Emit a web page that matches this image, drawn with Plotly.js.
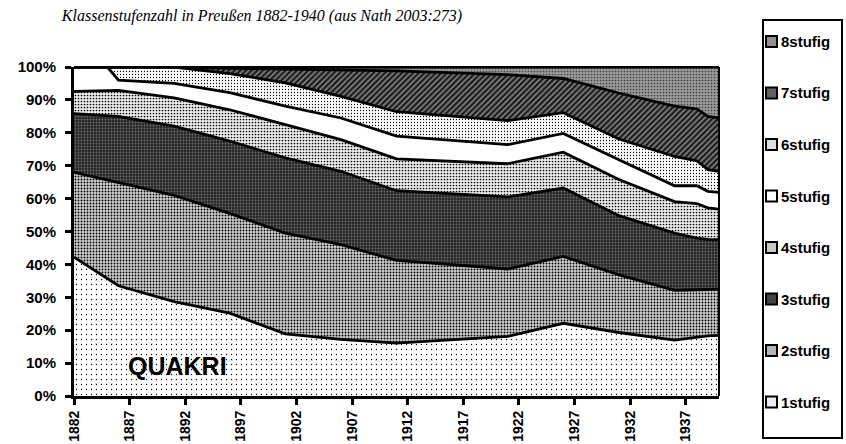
<!DOCTYPE html>
<html><head><meta charset="utf-8">
<script src="https://cdn.plot.ly/plotly-3.0.1.min.js"></script>
<style>body{margin:0;background:#fff}#c{width:846px;height:444px}</style>
</head><body><div id="c"></div>
<script>
var years = [1882,1885,1886,1891,1896,1901,1906,1911,1921,1926,1931,1936,1938,1939,1940];
var s1 = [42.2,35.7,33.5,28.7,25.2,18.9,17.2,16.1,18.1,22.1,19.3,17.0,17.8,18.3,18.4];
var s2 = [25.8,30.0,31.4,32.3,30.3,30.6,28.8,25.1,20.5,20.3,17.5,15.1,14.5,14.2,14.1];
var s3 = [17.8,19.5,20.1,21.0,22.0,22.9,22.3,21.2,21.9,20.8,18.0,17.4,15.7,15.1,15.0];
var s4 = [6.8,7.6,7.9,8.6,9.5,10.1,9.6,9.7,10.1,10.9,11.0,9.6,10.5,9.6,9.3];
var s5 = [7.4,7.2,3.1,4.4,5.2,5.6,6.6,6.9,5.8,5.7,6.0,4.8,5.4,5.0,5.1];
var s6 = [0,0,4.0,5.0,5.8,7.1,6.6,7.4,7.3,6.3,6.3,8.9,7.6,6.6,6.4];
var s7 = [0,0,0,0,1.6,4.1,7.9,12.4,14.0,10.4,14.0,15.3,15.8,16.2,16.2];
var s8 = [0,0,0,0,0.4,0.7,1.0,1.2,2.3,3.5,7.9,11.9,12.7,15.0,15.5];
var names = ['1stufig','2stufig','3stufig','4stufig','5stufig','6stufig','7stufig','8stufig'];
var series = [s1,s2,s3,s4,s5,s6,s7,s8];
var patterns = [
  {shape:'.', bgcolor:'#ffffff', fgcolor:'#000000', size:5, solidity:0.05},
  {shape:'.', bgcolor:'#d0d0d0', fgcolor:'#000000', size:3, solidity:0.3},
  {shape:'.', bgcolor:'#262626', fgcolor:'#6e6e6e', size:3, solidity:0.3},
  {shape:'.', bgcolor:'#ececec', fgcolor:'#000000', size:3, solidity:0.25},
  null,
  {shape:'.', bgcolor:'#ffffff', fgcolor:'#000000', size:3, solidity:0.14},
  {shape:'/', bgcolor:'#7a7a7a', fgcolor:'#141414', size:4, solidity:0.5},
  {shape:'.', bgcolor:'#9a9a9a', fgcolor:'#404040', size:3, solidity:0.25}
];
var legendFill = ['#ececec','#b4b4b4','#444444','#c8c8c8','#ffffff','#dedede','#626262','#909090'];
var traces = series.map(function(v,i){
  var t = {x:years, y:v, name:names[i], type:'scatter', mode:'lines', stackgroup:'a',
    line:{color:'#000', width:2.8, shape:'linear'}, fillcolor: legendFill[i], hoverinfo:'skip'};
  if (patterns[i]) t.fillpattern = patterns[i]; else t.fillcolor = '#ffffff';
  return t;
});
var F = 'Liberation Sans, Arial, sans-serif';
var shapes = [
  {type:'line', xref:'paper', yref:'paper', x0:0, x1:1, y0:1, y1:1, line:{color:'#000', width:2}},
  {type:'line', xref:'paper', yref:'paper', x0:1, x1:1, y0:0, y1:1, line:{color:'#000', width:2}},
  {type:'rect', xref:'paper', yref:'paper', x0:(763-74)/645, x1:(842-74)/645, y0:(396-438)/329, y1:(396-20)/329, line:{color:'#000', width:2}, fillcolor:'rgba(0,0,0,0)'}
];
var annotations = [
  {x:1891.3, y:9, xref:'x', yref:'y', text:'<b>QUAKRI</b>', showarrow:false, font:{family:F, size:25, color:'#000'}}
];
for (var k=0;k<8;k++){
  var idx = 7-k;
  var cy = 41.5 + k*51.5;
  shapes.push({type:'rect', xref:'paper', yref:'paper', x0:(766-74)/645, x1:(777-74)/645, y0:(396-cy-5.5)/329, y1:(396-cy+5.5)/329, line:{color:'#000', width:2}, fillcolor:legendFill[idx]});
  annotations.push({x:(779-74)/645, y:(396-cy)/329, xref:'paper', yref:'paper', xanchor:'left', yanchor:'middle', text:'<b>'+names[idx]+'</b>', showarrow:false, font:{family:F, size:15, color:'#000'}});
}
var layout = {
  width:846, height:444,
  margin:{l:74, r:127, t:67, b:48, pad:0},
  paper_bgcolor:'#fff', plot_bgcolor:'#fff',
  showlegend:false,
  title:{text:'<i>Klassenstufenzahl in Preußen 1882-1940 (aus Nath 2003:273)</i>', x:262/846, xanchor:'center', xref:'container', y:1-15/444, yanchor:'middle', yref:'container', font:{family:'Liberation Serif, Times New Roman, serif', size:16, color:'#000'}},
  xaxis:{range:[1882,1940], tick0:1882, dtick:5, tickangle:-90, ticks:'outside', ticklen:6, tickwidth:3, tickcolor:'#000',
    showline:true, linewidth:3, linecolor:'#000', showgrid:false, zeroline:false,
    tickfont:{family:F, size:14, color:'#000', weight:'bold'}},
  yaxis:{range:[0,100], dtick:10, ticksuffix:'%', ticks:'outside', ticklen:6, tickwidth:3, tickcolor:'#000',
    showline:true, linewidth:3, linecolor:'#000', showgrid:false, zeroline:false, ticklabelstandoff:6,
    tickfont:{family:F, size:15, color:'#000', weight:'bold'}},
  shapes:shapes, annotations:annotations
};
Plotly.newPlot('c', traces, layout, {staticPlot:true, displayModeBar:false});
</script></body></html>
